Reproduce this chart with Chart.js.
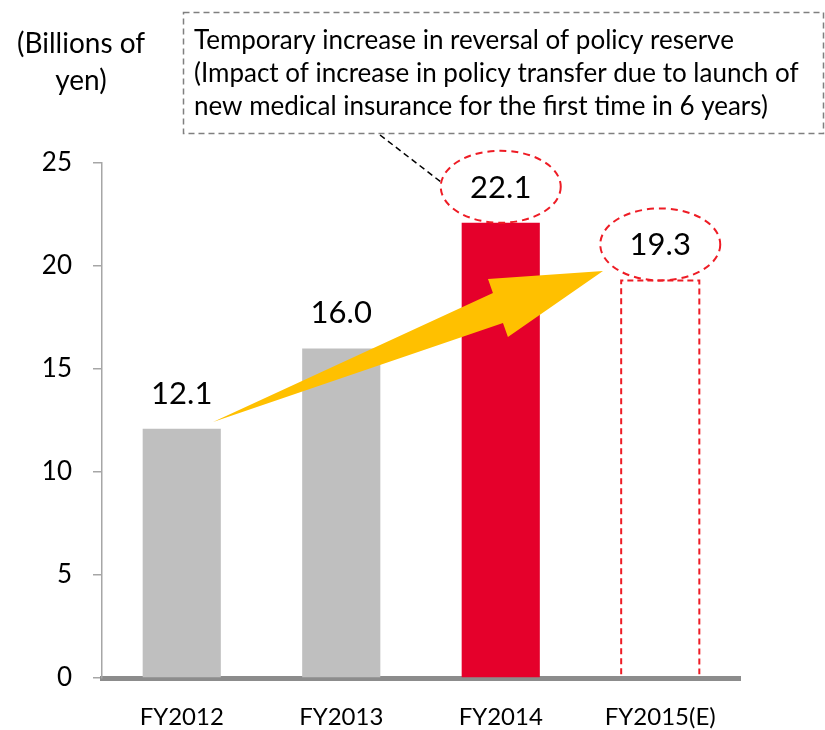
<!DOCTYPE html>
<html>
<head>
<meta charset="utf-8">
<script src="https://cdn.jsdelivr.net/npm/chart.js@4/dist/chart.umd.min.js"></script>
<style>
  html, body { margin: 0; padding: 0; background: #fff; }
  #c { display: block; }
</style>
</head>
<body>
<canvas id="c" width="825" height="730"></canvas>
<script>
// Data.
const categories = ["FY2012", "FY2013", "FY2014", "FY2015(E)"];
const values = [12.1, 16.0, 22.1, 19.3];
const valueLabels = ["12.1", "16.0", "22.1", "19.3"];
const yTicks = [0, 5, 10, 15, 20, 25];
const unitLines = ["(Billions of", "yen)"];
const noteLines = [
  "Temporary increase in reversal of policy reserve",
  "(Impact of increase in policy transfer due to launch of",
  "new medical insurance for the first time in 6 years)",
];
const circledIndexes = [2, 3];
const estimateIndex = 3;

const GREY = "#BFBFBF";
const RED = "#E5002B";
const DASH_RED = "#EE1C25";
const YELLOW = "#FFC000";
const FONT = "Lato";

// Arrow outline in data space: [category index, value].
const arrowShape = [
  [0.196, 12.43], // tail
  [1.951, 18.69], // neck upper
  [1.92, 19.37],  // barb upper
  [2.641, 19.76], // tip
  [2.045, 16.55], // barb lower
  [2.014, 17.23], // neck lower
];

const overlay = {
  id: "overlay",
  beforeDraw(chart) {
    const ctx = chart.ctx;
    ctx.save();
    ctx.fillStyle = "#fff";
    ctx.fillRect(0, 0, chart.width, chart.height);
    ctx.restore();
  },
  afterDraw(chart) {
    const ctx = chart.ctx;
    const xs = chart.scales.x;
    const ys = chart.scales.y;
    const meta = chart.getDatasetMeta(0);
    ctx.save();

    // dashed outline for the estimate bar
    const est = meta.data[estimateIndex];
    const half = est.width / 2;
    ctx.strokeStyle = DASH_RED;
    ctx.lineWidth = 2;
    ctx.setLineDash([6, 4]);
    ctx.beginPath();
    ctx.moveTo(est.x - half, est.base - 3);
    ctx.lineTo(est.x - half, est.y);
    ctx.lineTo(est.x + half, est.y);
    ctx.lineTo(est.x + half, est.base - 3);
    ctx.stroke();
    ctx.setLineDash([]);

    // yellow arrow
    ctx.fillStyle = YELLOW;
    ctx.beginPath();
    arrowShape.forEach(([i, v], k) => {
      const px = xs.getPixelForValue(i);
      const py = ys.getPixelForValue(v);
      if (k === 0) ctx.moveTo(px, py);
      else ctx.lineTo(px, py);
    });
    ctx.closePath();
    ctx.fill();

    // value labels
    ctx.fillStyle = "#000";
    ctx.font = "31px " + FONT;
    ctx.textAlign = "center";
    ctx.textBaseline = "middle";
    meta.data.forEach((bar, i) => {
      ctx.fillText(valueLabels[i], bar.x, bar.y - 35);
    });

    // dashed ellipses round some labels
    ctx.strokeStyle = DASH_RED;
    ctx.lineWidth = 2;
    ctx.setLineDash([7, 5]);
    circledIndexes.forEach((i) => {
      const bar = meta.data[i];
      ctx.beginPath();
      ctx.ellipse(bar.x, bar.y - 36, 60, 36, 0, 0, Math.PI * 2);
      ctx.stroke();
    });

    // annotation box
    ctx.strokeStyle = "#7F7F7F";
    ctx.lineWidth = 1.5;
    ctx.setLineDash([6, 4]);
    ctx.strokeRect(183.5, 12.5, 640, 121);

    // leader line
    ctx.strokeStyle = "#000";
    ctx.setLineDash([6, 4]);
    ctx.beginPath();
    ctx.moveTo(380, 135);
    ctx.lineTo(441, 182);
    ctx.stroke();
    ctx.setLineDash([]);

    ctx.fillStyle = "#000";
    ctx.font = "26px " + FONT;
    ctx.textAlign = "left";
    ctx.textBaseline = "alphabetic";
    noteLines.forEach((t, i) => ctx.fillText(t, 194, 49 + i * 33));

    // unit label
    ctx.font = "28px " + FONT;
    ctx.textAlign = "center";
    unitLines.forEach((t, i) => ctx.fillText(t, 81, 53 + i * 37));

    ctx.restore();
  },
};

new Chart(document.getElementById("c"), {
  type: "bar",
  data: {
    labels: categories,
    datasets: [
      {
        data: values,
        backgroundColor: [GREY, GREY, RED, "rgba(0,0,0,0)"],
        borderWidth: 0,
        barPercentage: 0.49,
        categoryPercentage: 1.0,
      },
    ],
  },
  options: {
    responsive: false,
    animation: false,
    layout: { padding: { top: 163, right: 85, left: 0, bottom: 0 } },
    plugins: {
      legend: { display: false },
      tooltip: { enabled: false },
    },
    scales: {
      x: {
        z: 1,
        grid: { display: false },
        border: { color: "#8C8C8C", width: 5 },
        ticks: {
          color: "#000",
          padding: 17,
          font: { family: FONT, size: 24 },
        },
        afterFit(scale) {
          scale.height = 52;
        },
      },
      y: {
        min: 0,
        max: 25,
        afterBuildTicks(scale) {
          scale.ticks = yTicks.map((v) => ({ value: v }));
        },
        grid: {
          drawOnChartArea: false,
          tickLength: 9,
          color: "#A6A6A6",
          lineWidth: 1.5,
        },
        border: { color: "#A6A6A6", width: 1.5 },
        ticks: {
          color: "#000",
          padding: 21,
          font: { family: FONT, size: 26 },
        },
        afterFit(scale) {
          scale.width = 102;
        },
      },
    },
  },
  plugins: [overlay],
});
</script>
</body>
</html>
